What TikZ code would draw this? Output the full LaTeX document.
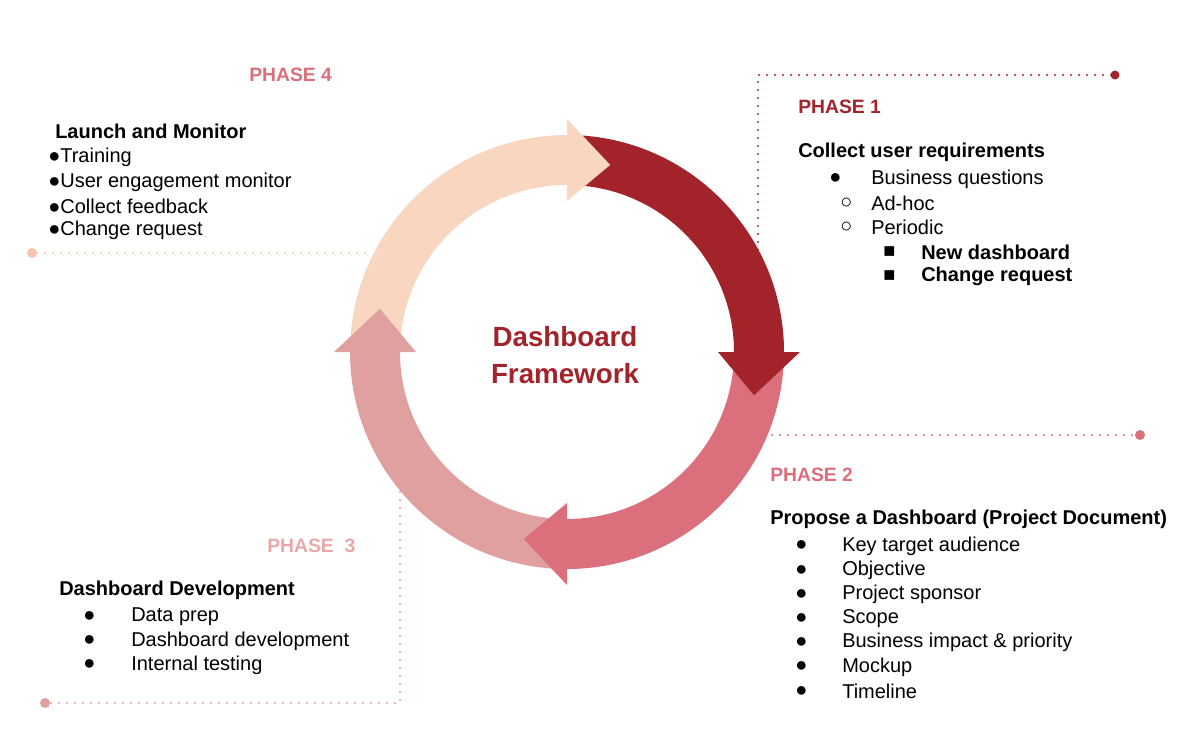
\documentclass[tikz,border=0pt]{standalone}
\usepackage{fontspec}
\setmainfont{Liberation Sans}
\usetikzlibrary{calc}
\definecolor{cA}{HTML}{A3232B}
\definecolor{cB}{HTML}{DB6F7B}
\definecolor{cC}{HTML}{E0A09F}
\definecolor{cD}{HTML}{F9D6BF}
\definecolor{lD}{HTML}{F3C4B0}
\definecolor{tC}{HTML}{E8A8A8}
\newcommand\ringbody[2]{%
  \fill[#1] ({#2+89}:217) arc[start angle={#2+89}, end angle=#2, radius=217]
    -- (#2:167) arc[start angle=#2, end angle={#2+89}, radius=167] -- cycle;}
\newcommand\ringhead[2]{%
  \fill[#1] (#2:233) -- ({#2-13}:192) -- (#2:151) -- cycle;}
\begin{document}
\begin{tikzpicture}[x=0.75pt,y=-0.75pt,
  txt/.style={anchor=west,inner sep=0pt,font=\fontsize{15pt}{18pt}\selectfont},
  bt/.style={txt,font=\fontsize{15pt}{18pt}\selectfont\bfseries},
  ph/.style={txt,font=\fontsize{14.5pt}{18pt}\selectfont\bfseries},
  dl/.style={line width=1.8pt,line cap=round,dash pattern=on 0pt off 6pt}]
\useasboundingbox (0,0) rectangle (1200,742);
\begin{scope}[shift={(567,352)},yscale=-1]
  \ringbody{cA}{0}
  \ringbody{cB}{-90}
  \ringbody{cC}{180}
  \ringbody{cD}{90}
  \ringhead{cA}{0}
  \ringhead{cB}{-90}
  \ringhead{cC}{180}
  \ringhead{cD}{90}
\end{scope}
\node[align=center,text=cA,font=\fontsize{20.8pt}{28pt}\selectfont\bfseries] (title) at (565,355) {Dashboard\\Framework};
% dotted connectors
\coordinate (a1) at (758,250); \coordinate (a2) at (758,75); \coordinate (a3) at (1115,75);
\draw[dl,cA] (a1) -- (a2) -- (a3); \fill[cA] (a3) circle (4.5);
\coordinate (b1) at (772,435); \coordinate (b2) at (1140,435);
\draw[dl,cB] (b1) -- (b2); \fill[cB] (b2) circle (5);
\coordinate (d1) at (365,253); \coordinate (d2) at (32,253);
\draw[dl,lD] (d1) -- (d2); \fill[lD] (d2) circle (5);
\coordinate (c1) at (400,492); \coordinate (c2) at (400,703); \coordinate (c3) at (45,703);
\draw[dl,cC] (c1) -- (c2) -- (c3); \fill[cC] (c3) circle (5);
% phase 4
\node[ph,text=cB] (p4) at (249,75) {PHASE 4};
\node[bt] (p4h) at (55,131) {Launch and Monitor};
\node[txt] (p4a) at (48,157) {●Training};
\node[txt] (p4b) at (48,182) {●User engagement monitor};
\node[txt] (p4c) at (48,206) {●Collect feedback};
\node[txt] (p4d) at (48,230) {●Change request};
% phase 1
\node[ph,text=cA] (p1) at (798,107) {PHASE 1};
\node[bt] (p1h) at (798,152) {Collect user requirements};
\node[txt] (p1ab) at (829,179) {●}; \node[txt] (p1a) at (871,179) {Business questions};
\node[txt] (p1bb) at (840,203) {○}; \node[txt] (p1b) at (871,203) {Ad-hoc};
\node[txt] (p1cb) at (840,227) {○}; \node[txt] (p1c) at (871,227) {Periodic};
\node[txt] (p1db) at (883,252) {■}; \node[bt] (p1d) at (921,252) {New dashboard};
\node[txt] (p1eb) at (883,276) {■}; \node[bt] (p1e) at (921,276) {Change request};
% phase 2
\node[ph,text=cB] (p2) at (770,475) {PHASE 2};
\node[bt] (p2h) at (770,519) {Propose a Dashboard (Project Document)};
\foreach \t [count=\i] in {Key target audience,Objective,Project sponsor,Scope,Business impact \& priority,Mockup,Timeline}{
  \node[txt] (p2b\i) at (795,{546+24.2*(\i-1)}) {●};
  \node[txt] (p2t\i) at (842,{546+24.2*(\i-1)}) {\t};
}
% phase 3
\node[ph,text=tC] (p3) at (267,546) {PHASE\ \ 3};
\node[bt] (p3h) at (59,590) {Dashboard Development};
\foreach \t [count=\i] in {Data prep,Dashboard development,Internal testing}{
  \node[txt] (p3b\i) at (83,{617+24*(\i-1)}) {●};
  \node[txt] (p3t\i) at (131,{617+24*(\i-1)}) {\t};
}
\end{tikzpicture}
\end{document}
